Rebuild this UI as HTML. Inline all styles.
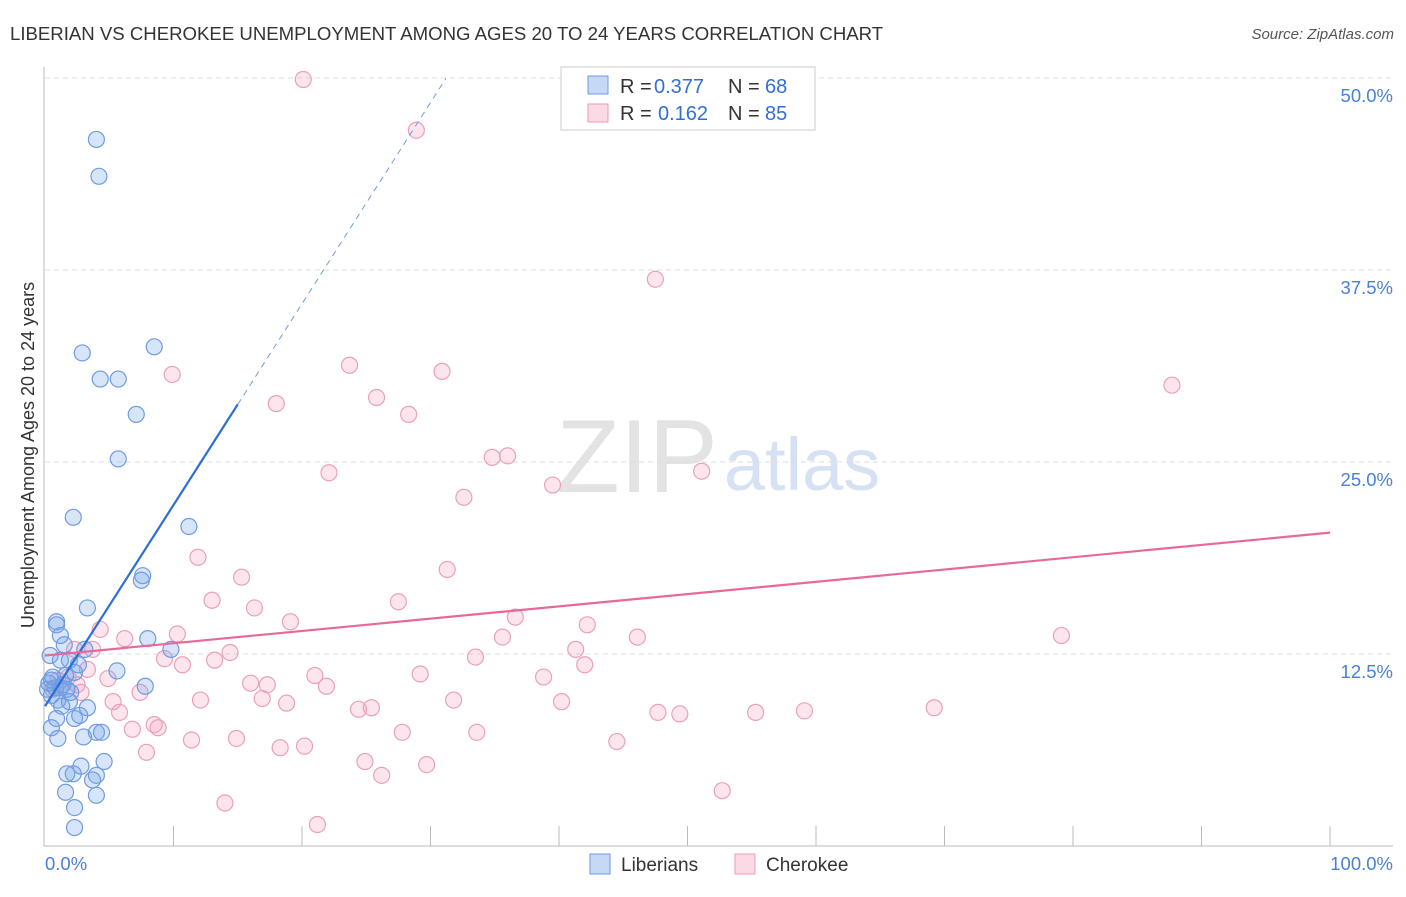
<!DOCTYPE html>
<html><head><meta charset="utf-8"><style>
body{margin:0;background:#fff;font-family:"Liberation Sans",sans-serif;}
svg text{font-family:"Liberation Sans",sans-serif;}
</style></head><body>
<svg id="chart" width="1406" height="892" viewBox="0 0 1406 892">
<text x="10" y="40" font-size="18.6" fill="#333">LIBERIAN VS CHEROKEE UNEMPLOYMENT AMONG AGES 20 TO 24 YEARS CORRELATION CHART</text>
<text x="1394" y="39" font-size="15" fill="#555" text-anchor="end" font-style="italic">Source: ZipAtlas.com</text>
<text x="637" y="492" font-size="104" fill="#e3e3e3" text-anchor="middle" font-family="Liberation Serif">ZIP</text>
<text x="802" y="490" font-size="74" fill="#d6e2f3" text-anchor="middle">atlas</text>
<text transform="translate(34,455) rotate(-90)" font-size="18" fill="#333" text-anchor="middle">Unemployment Among Ages 20 to 24 years</text>
<g id="grid"></g><g id="axes"></g><g id="marks"></g><g id="lines"></g>
<g>
<rect x="561" y="67" width="254" height="63" fill="#fff" stroke="#ccc"/>
<rect x="588" y="76" width="20" height="18" fill="rgba(110,160,235,0.4)" stroke="#6f9be0"/>
<rect x="588" y="104" width="20" height="18" fill="rgba(245,160,190,0.4)" stroke="#e99ab5"/>
<text x="620" y="93" font-size="20" fill="#333">R =</text><text x="654" y="93" font-size="20" fill="#2f6fd6">0.377</text>
<text x="728" y="93" font-size="20" fill="#333">N =</text><text x="765" y="93" font-size="20" fill="#2f6fd6">68</text>
<text x="620" y="120" font-size="20" fill="#333">R =</text><text x="658" y="120" font-size="20" fill="#2f6fd6">0.162</text>
<text x="728" y="120" font-size="20" fill="#333">N =</text><text x="765" y="120" font-size="20" fill="#2f6fd6">85</text>
</g>
<g>
<rect x="590" y="854" width="20" height="20" fill="rgba(110,160,235,0.4)" stroke="#6f9be0"/>
<text x="621" y="871" font-size="19" fill="#333">Liberians</text>
<rect x="735" y="854" width="20" height="20" fill="rgba(245,160,190,0.4)" stroke="#e99ab5"/>
<text x="766" y="871" font-size="19" fill="#333">Cherokee</text>
</g>
</svg>
<script>
const yTicks=[12.5,25,37.5,50];
const yTickLabels=["12.5%","25.0%","37.5%","50.0%"];
const xTicks=[10,20,30,40,50,60,70,80,90,100];
const blueX=[4.0,4.2,2.9,8.5,4.3,5.7,7.1,5.7,2.2,11.2,7.6,7.5,3.3,0.9,0.9,8.0,1.2,9.8,3.1,1.5,0.4,1.2,1.9,2.6,5.6,2.3,1.6,0.5,0.8,1.2,0.2,1.7,7.8,0.5,1.0,1.9,1.3,3.3,0.9,2.3,2.7,0.5,4.0,4.4,1.0,3.0,4.6,2.8,1.7,2.2,4.0,3.7,1.6,4.0,2.3,2.3,0.3,0.6,1.4,2.0];
const blueY=[46.0,43.6,32.1,32.5,30.4,30.4,28.1,25.2,21.4,20.8,17.6,17.3,15.5,14.6,14.4,13.5,13.7,12.8,12.8,13.1,12.4,12.1,12.1,11.8,11.4,11.3,11.1,10.8,10.3,10.3,10.2,10.2,10.4,9.8,9.5,9.4,9.1,9.0,8.3,8.3,8.5,7.7,7.4,7.4,7.0,7.1,5.5,5.2,4.7,4.7,4.6,4.3,3.5,3.3,2.5,1.2,10.6,11.0,10.5,10.0];
const pinkX=[20.1,28.9,47.5,23.7,30.9,9.9,25.8,18.0,28.3,87.7,34.8,36.0,22.1,51.1,39.5,32.6,11.9,31.3,15.3,13.0,27.5,16.3,36.6,19.1,42.2,4.3,10.3,6.2,46.1,35.6,79.1,3.7,2.3,14.4,41.3,33.5,9.3,13.2,10.7,3.3,42.0,21.0,29.2,38.8,4.9,16.0,17.3,21.9,2.8,7.4,12.1,16.9,18.8,31.8,40.2,5.3,5.8,24.4,25.4,47.7,49.4,55.3,59.1,69.2,8.5,6.8,8.8,27.8,33.6,11.4,14.9,44.5,18.3,20.2,7.9,24.9,29.7,26.2,52.7,14.0,21.2,1.0,0.6,1.8,2.5];
const pinkY=[49.9,46.6,36.9,31.3,30.9,30.7,29.2,28.8,28.1,30.0,25.3,25.4,24.3,24.4,23.5,22.7,18.8,18.0,17.5,16.0,15.9,15.5,14.9,14.6,14.4,14.1,13.8,13.5,13.6,13.6,13.7,12.8,12.8,12.6,12.8,12.3,12.2,12.1,11.8,11.5,11.8,11.1,11.2,11.0,10.9,10.6,10.5,10.4,10.0,10.0,9.5,9.6,9.3,9.5,9.4,9.4,8.7,8.9,9.0,8.7,8.6,8.7,8.8,9.0,7.9,7.6,7.7,7.4,7.4,6.9,7.0,6.8,6.4,6.5,6.1,5.5,5.3,4.6,3.6,2.8,1.4,10.8,10.2,11.0,10.5];
const blueFit=[9.1,1.31]; const pinkFit=[12.4,0.08];
const X=v=>45+v*12.85, Y=v=>846-v*15.36;
const NS="http://www.w3.org/2000/svg";
function mk(t,a,p){const e=document.createElementNS(NS,t);for(const k in a)e.setAttribute(k,a[k]);p.appendChild(e);return e;}
const grid=document.getElementById('grid'),axes=document.getElementById('axes'),marks=document.getElementById('marks'),lines=document.getElementById('lines');
yTicks.forEach((t,i)=>{
 const l=mk('line',{x1:45,x2:1393,y1:Y(t),y2:Y(t),stroke:'#ddd','stroke-dasharray':'5,4'},grid);
 
 
 const tx=mk('text',{x:1393,y:Y(t)+24,'font-size':18.5,fill:'#4a7fd6','text-anchor':'end'},grid);
 tx.textContent=yTickLabels[i];
 
 
});
const ax=mk('path',{d:'M44,67 V846 H1393',fill:'none',stroke:'#bbb'},axes);


xTicks.forEach(t=>{const l=mk('line',{x1:X(t),x2:X(t),y1:826,y2:846,stroke:'#bbb'},axes);
 
 });
const x0=mk('text',{x:45,y:870,'font-size':18.5,fill:'#4a7fd6'},axes);x0.textContent='0.0%';


const x1=mk('text',{x:1393,y:870,'font-size':18.5,fill:'#4a7fd6','text-anchor':'end'},axes);x1.textContent='100.0%';


pinkX.forEach((v,i)=>{const c=mk('circle',{cx:X(v),cy:Y(pinkY[i]),r:8,fill:'rgba(245,160,190,0.28)',stroke:'#eaa0ba','stroke-width':1.2},marks);
 
 });
blueX.forEach((v,i)=>{const c=mk('circle',{cx:X(v),cy:Y(blueY[i]),r:8,fill:'rgba(110,160,235,0.28)',stroke:'#6f9be0','stroke-width':1.2},marks);
 
 });
const bxEnd=15.0, bxDash=31.2;
const bl=mk('line',{x1:X(0),y1:Y(blueFit[0]),x2:X(bxEnd),y2:Y(blueFit[0]+blueFit[1]*bxEnd),stroke:'#2d6fd6','stroke-width':2.2},lines);


const bd=mk('line',{x1:X(bxEnd),y1:Y(blueFit[0]+blueFit[1]*bxEnd),x2:X(bxDash),y2:Y(blueFit[0]+blueFit[1]*bxDash),stroke:'#6f9be0','stroke-width':1,'stroke-dasharray':'6,5'},lines);


const pl=mk('line',{x1:X(0),y1:Y(pinkFit[0]),x2:X(100),y2:Y(pinkFit[0]+pinkFit[1]*100),stroke:'#e8689a','stroke-width':2.2},lines);


</script>
</body></html>
